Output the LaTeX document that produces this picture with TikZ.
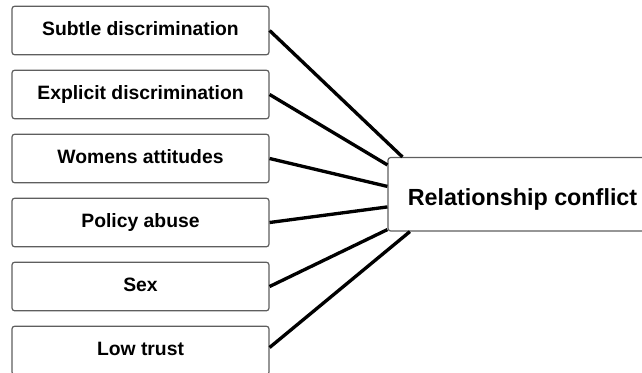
\documentclass[tikz,border=0pt]{standalone}
\usepackage{fontspec}
\setmainfont{Liberation Sans}
\usetikzlibrary{calc}
\definecolor{boxline}{HTML}{5E5E5E}
\tikzset{
  factor/.style={draw=boxline, line width=0.9pt, rounded corners=2pt, fill=white,
    minimum width=192.75pt, minimum height=36.4pt, inner sep=0pt,
    font=\bfseries\fontsize{14.5pt}{16pt}\selectfont,
    text height=10.35pt, text depth=2.85pt},
  outcome/.style={draw=boxline, line width=0.9pt, rounded corners=2pt, fill=white,
    minimum width=201.75pt, minimum height=55.1pt, inner sep=0pt},
  outlabel/.style={anchor=base, inner sep=0pt,
    font=\bfseries\fontsize{17.5pt}{20pt}\selectfont},
  link/.style={line width=2.5pt, black}
}
\begin{document}
\begin{tikzpicture}[x=0.75pt, y=-0.75pt]
  \useasboundingbox (0,0) rectangle (642,372);
  % predictors
  \node[factor] (b1) at (140.5,30.5)  {Subtle discrimination};
  \node[factor] (b2) at (140.5,94.5)  {Explicit discrimination};
  \node[factor] (b3) at (140.5,158.5) {Womens attitudes};
  \node[factor] (b4) at (140.5,222.5) {Policy abuse};
  \node[factor] (b5) at (140.5,286.5) {Sex};
  \node[factor] (b6) at (140.5,350.5) {Low trust};
  % outcome
  \node[outcome] (rc) at (522.5,194.25) {};
  \node[outlabel] (rclabel) at (522.5,205) {Relationship conflict};
  % connectors
  \draw[link] (b1.east) -- ($(rc.north west)+(15,0)$);
  \draw[link] (b2.east) -- ($(rc.north west)+(0,8)$);
  \draw[link] (b3.east) -- ($(rc.north west)+(0,29.5)$);
  \draw[link] (b4.east) -- ($(rc.north west)+(0,50)$);
  \draw[link] (b5.east) -- ($(rc.south west)+(0,-2)$);
  \draw[link] ([yshift=2.25pt]b6.east) -- ($(rc.south west)+(22.5,0)$);
\end{tikzpicture}
\end{document}
